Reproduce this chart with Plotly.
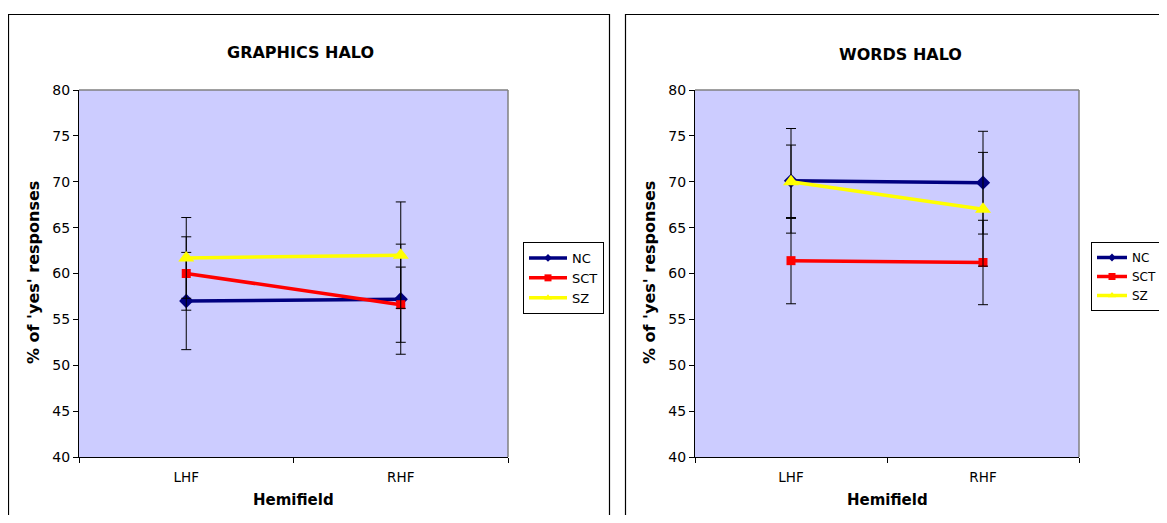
import plotly.graph_objects as go

# page is 1167x523; browser body has an 8px default margin
OFF = 8
W, H = 1167 - 2 * OFF, 523 - 2 * OFF

categories = ["LHF", "RHF"]
series_names = ["NC", "SCT", "SZ"]

graphics_nc = [57.0, 57.2]
graphics_sct = [60.0, 56.6]
graphics_sz = [61.7, 62.0]
graphics_nc_err = [5.3, 6.0]
graphics_sct_err = [4.0, 4.1]
graphics_sz_err = [4.4, 5.8]

words_nc = [70.1, 69.9]
words_sct = [61.4, 61.2]
words_sz = [70.0, 67.0]
words_nc_err = [5.7, 5.6]
words_sct_err = [4.7, 4.6]
words_sz_err = [4.0, 6.2]

y_ticks = [40, 45, 50, 55, 60, 65, 70, 75, 80]

colors = {"NC": "#000080", "SCT": "#FF0000", "SZ": "#FFFF00"}
symbols = {"NC": "diamond", "SCT": "square", "SZ": "triangle-up"}
msizes = {"NC": 11, "SCT": 9, "SZ": 14}
legend_msizes = {"NC": 6, "SCT": 7, "SZ": 7}

FONT = "DejaVu Sans"

def px_x(p):
    return (p - OFF) / W

def px_y(p):
    return 1 - (p - OFF) / H

fig = go.Figure()

xpos = [0, 1]
panels = [
    ("x", "y", "legend", {"NC": (graphics_nc, graphics_nc_err), "SCT": (graphics_sct, graphics_sct_err), "SZ": (graphics_sz, graphics_sz_err)}),
    ("x2", "y2", "legend2", {"NC": (words_nc, words_nc_err), "SCT": (words_sct, words_sct_err), "SZ": (words_sz, words_sz_err)}),
]

for xa, ya, leg, data in panels:
    for name in series_names:
        vals, errs = data[name]
        fig.add_trace(go.Scatter(
            x=xpos, y=vals, name=name, mode="lines+markers",
            xaxis=xa, yaxis=ya, showlegend=False,
            line=dict(color=colors[name], width=3.5),
            marker=dict(symbol=symbols[name], size=msizes[name], color=colors[name]),
            error_y=dict(type="data", array=errs, visible=True, color="black", thickness=1, width=5),
        ))
    # legend entries (smaller symbols, as in the reference legend)
    for name in series_names:
        fig.add_trace(go.Scatter(
            x=[None], y=[None], name=name, mode="lines+markers",
            xaxis=xa, yaxis=ya, legend=leg, showlegend=True, hoverinfo="skip",
            line=dict(color=colors[name], width=3.5),
            marker=dict(symbol=symbols[name], size=legend_msizes[name], color=colors[name]),
        ))

left_dom = [px_x(79), px_x(508)]
right_dom = [px_x(695), px_x(1079)]
y_dom = [px_y(457), px_y(90)]

def xaxis_cfg(dom, anchor):
    return dict(
        domain=dom, anchor=anchor, range=[-0.5, 1.5], automargin=False,
        tickvals=xpos, ticktext=categories, ticks="",
        showline=True, linecolor="black", linewidth=1,
        showgrid=False, zeroline=False, fixedrange=True,
        tickfont=dict(family=FONT, size=13.5, color="black"),
        minor=dict(ticks="outside", tick0=-0.5, dtick=1, ticklen=5, tickcolor="black", showgrid=False),
        ticklabelstandoff=8,
    )

def yaxis_cfg(anchor):
    return dict(
        domain=y_dom, anchor=anchor, range=[40, 80], automargin=False,
        tickvals=y_ticks, ticks="outside", ticklen=5, tickcolor="black",
        showline=True, linecolor="black", linewidth=1,
        showgrid=False, zeroline=False, fixedrange=True,
        tickfont=dict(family=FONT, size=14, color="black"),
    )

legend_common = dict(
    bgcolor="white", bordercolor="black", borderwidth=1,
    xanchor="left", yanchor="top", tracegroupgap=0,
    itemclick=False, itemdoubleclick=False,
)

fig.update_layout(
    width=W, height=H,
    margin=dict(l=0, r=0, t=0, b=0, pad=0, autoexpand=False),
    paper_bgcolor="white",
    plot_bgcolor="#CCCCFF",
    xaxis=xaxis_cfg(left_dom, "y"),
    yaxis=yaxis_cfg("x"),
    xaxis2=xaxis_cfg(right_dom, "y2"),
    yaxis2=yaxis_cfg("x2"),
    legend=dict(x=px_x(523), y=px_y(242), itemwidth=38,
                font=dict(family=FONT, size=13, color="black"), **legend_common),
    legend2=dict(x=px_x(1091), y=px_y(242), itemwidth=30,
                 font=dict(family=FONT, size=12, color="black"), **legend_common),
    showlegend=True,
)

shapes = []
shapes.append(dict(type="rect", xref="paper", yref="paper", x0=px_x(8.5), x1=px_x(609.5), y0=-0.05, y1=px_y(14.5),
                   line=dict(color="black", width=1.2), fillcolor="rgba(0,0,0,0)", layer="below"))
shapes.append(dict(type="rect", xref="paper", yref="paper", x0=px_x(625.5), x1=1.05, y0=-0.05, y1=px_y(14.5),
                   line=dict(color="black", width=1.2), fillcolor="rgba(0,0,0,0)", layer="below"))
for xr, yr in [("x domain", "y domain"), ("x2 domain", "y2 domain")]:
    shapes.append(dict(type="line", xref=xr, yref=yr, x0=0, x1=1, y0=1, y1=1, line=dict(color="#808080", width=1.5)))
    shapes.append(dict(type="line", xref=xr, yref=yr, x0=1, x1=1, y0=0, y1=1, line=dict(color="#808080", width=1.5)))
fig.update_layout(shapes=shapes)

ann = []
def text(x, y, s, size=13, bold=True, angle=0):
    ann.append(dict(xref="paper", yref="paper", x=px_x(x), y=px_y(y), text=("<b>%s</b>" % s) if bold else s,
                    showarrow=False, xanchor="center", yanchor="middle", textangle=angle,
                    font=dict(family=FONT, size=size, color="black")))

text(300, 52, "GRAPHICS HALO", size=16)
text(900, 54, "WORDS HALO", size=16)
text(293, 500, "Hemifield", size=15)
text(887, 500, "Hemifield", size=15)
text(33, 273, "% of 'yes' responses", size=16, angle=-90)
text(649, 273, "% of 'yes' responses", size=16, angle=-90)
fig.update_layout(annotations=ann)

fig.write_html("out.html")
